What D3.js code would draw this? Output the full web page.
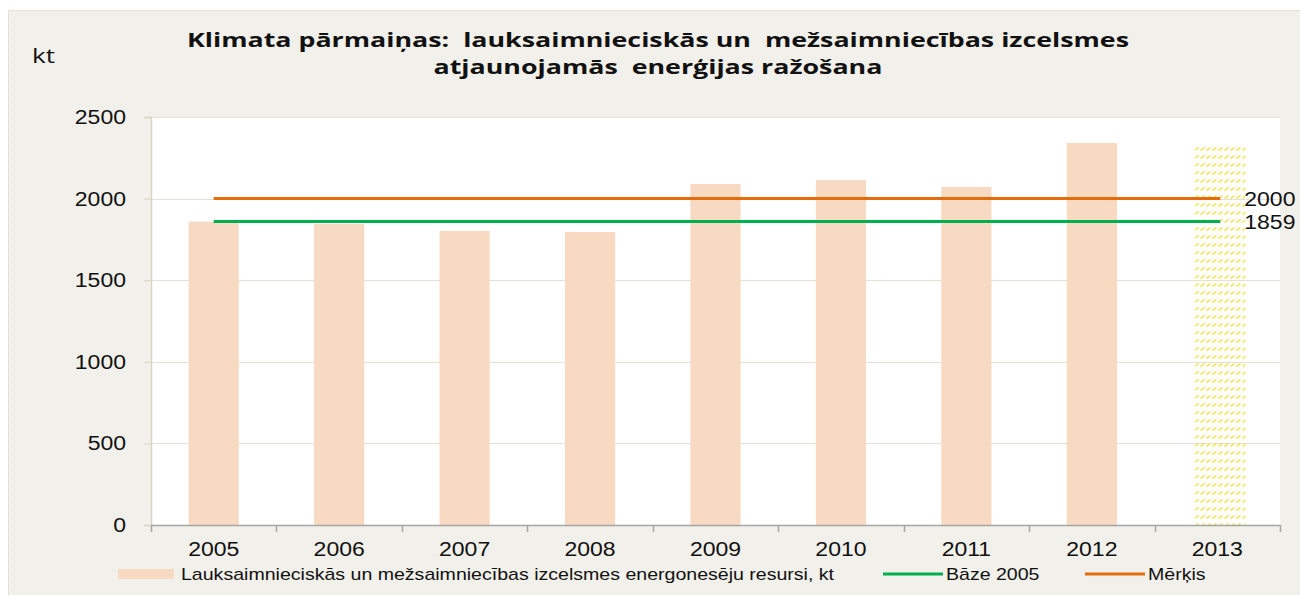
<!DOCTYPE html>
<html>
<head>
<meta charset="utf-8">
<script src="https://cdn.jsdelivr.net/npm/d3@7"></script>
<style>
  body { margin: 0; background: #fff; }
  svg { display: block; }
  .tick text { font-family: "Liberation Sans", Arial, sans-serif; fill: #111; }
</style>
</head>
<body>
<div id="chart"></div>
<script>
/**** data ****/
var years = ["2005", "2006", "2007", "2008", "2009", "2010", "2011", "2012", "2013"];
// renewable energy resources, kt (2013 shown only as hatched placeholder)
var resources = [1859, 1845, 1801, 1795, 2089, 2114, 2071, 2341, null];
var hatched = [null, null, null, null, null, null, null, null, 2340];
var baseValue = 1859;   // Bāze 2005
var targetValue = 2000; // Mērķis
var yTicks = [0, 500, 1000, 1500, 2000, 2500];

var titleLines = ["Klimata pārmaiņas:  lauksaimnieciskās un  mežsaimniecības izcelsmes",
                  "atjaunojamās  enerģijas ražošana"];
var legendLabels = ["Lauksaimnieciskās un mežsaimniecības izcelsmes energonesēju resursi, kt",
                    "Bāze 2005", "Mērķis"];

/**** config ****/
var width = 1300, height = 595;
var plot = { left: 151, right: 1280, top: 117, bottom: 525 };
var barColor = "#f8d9c1", green = "#00b050", orange = "#e46c0a";
var stretchK = 1.15; // the original picture is a bit wider than tall

// widen text horizontally (keeps its anchor)
function stretch(sel, k) {
  sel.each(function() {
    var w = this.getComputedTextLength();
    d3.select(this).attr("textLength", w * k).attr("lengthAdjust", "spacingAndGlyphs");
  });
}

var svg = d3.select("#chart").append("svg")
    .attr("width", width)
    .attr("height", height);

// hatch pattern for 2013
var defs = svg.append("defs");
var pat = defs.append("pattern")
    .attr("id", "hatch")
    .attr("patternUnits", "userSpaceOnUse")
    .attr("width", 6).attr("height", 8);
pat.append("path")
    .attr("d", "M0.5,6.5 L4.5,3.5")
    .attr("stroke", "#efe23c")
    .attr("stroke-width", 1.5);

// outer chart background
svg.append("rect")
    .attr("x", 8).attr("y", 10)
    .attr("width", width - 8).attr("height", height - 10)
    .attr("fill", "#f1f0ea");
svg.append("line")
    .attr("x1", 8).attr("x2", width).attr("y1", 10.5).attr("y2", 10.5)
    .attr("stroke", "#d8d3b8").attr("stroke-dasharray", "1,1");
svg.append("line")
    .attr("x1", 8.5).attr("x2", 8.5).attr("y1", 10).attr("y2", height)
    .attr("stroke", "#d8d3b8").attr("stroke-dasharray", "1,1");

// plot area
svg.append("rect")
    .attr("x", plot.left).attr("y", plot.top)
    .attr("width", plot.right - plot.left).attr("height", plot.bottom - plot.top)
    .attr("fill", "#fff");

var x = d3.scaleBand()
    .domain(years)
    .range([plot.left, plot.right])
    .paddingInner(0.6)
    .paddingOuter(0.3);

var y = d3.scaleLinear()
    .domain([0, 2500])
    .range([plot.bottom, plot.top]);

// gridlines
svg.append("g")
    .selectAll("line")
    .data(yTicks.slice(1))
    .enter().append("line")
    .attr("x1", plot.left).attr("x2", plot.right)
    .attr("y1", function(d) { return Math.round(y(d)) + 0.5; })
    .attr("y2", function(d) { return Math.round(y(d)) + 0.5; })
    .attr("stroke", "#e4e1d3");

// y axis
var yAxis = svg.append("g")
    .attr("transform", "translate(" + plot.left + ",0)")
    .call(d3.axisLeft(y).tickValues(yTicks).tickSize(7).tickPadding(18).tickFormat(d3.format("d")));
yAxis.selectAll("text").style("font-size", "20px").call(stretch, stretchK);
yAxis.selectAll("line").attr("stroke", "#d8d4c4");
yAxis.select(".domain").attr("stroke", "#d8d4c4").attr("stroke-width", 1.5);

// bars
svg.append("g")
    .selectAll("rect")
    .data(years.filter(function(d, i) { return resources[i] != null; }))
    .enter().append("rect")
    .attr("x", function(d) { return x(d); })
    .attr("width", x.bandwidth())
    .attr("y", function(d) { return y(resources[years.indexOf(d)]); })
    .attr("height", function(d) { return y(0) - y(resources[years.indexOf(d)]); })
    .attr("fill", barColor);

// hatched placeholder bar
svg.append("g")
    .selectAll("rect")
    .data(years.filter(function(d, i) { return hatched[i] != null; }))
    .enter().append("rect")
    .attr("x", function(d) { return x(d) + 3; })
    .attr("width", x.bandwidth())
    .attr("y", function(d) { return y(hatched[years.indexOf(d)]); })
    .attr("height", function(d) { return y(0) - y(hatched[years.indexOf(d)]); })
    .attr("fill", "url(#hatch)");

// x axis
var xAxis = svg.append("g")
    .attr("transform", "translate(0," + plot.bottom + ")")
    .call(d3.axisBottom(x).tickSize(0).tickPadding(17));
xAxis.selectAll("text").style("font-size", "20px").call(stretch, stretchK);
xAxis.select(".domain").attr("stroke", "#a6a6a6").attr("stroke-width", 1.5);
// tick marks at category boundaries
var edges = d3.range(years.length + 1).map(function(i) { return plot.left + i * (plot.right - plot.left) / years.length; });
svg.append("g")
    .selectAll("line")
    .data(edges)
    .enter().append("line")
    .attr("x1", function(d) { return Math.round(d) + 0.5; })
    .attr("x2", function(d) { return Math.round(d) + 0.5; })
    .attr("y1", plot.bottom).attr("y2", plot.bottom + 7)
    .attr("stroke", "#a6a6a6").attr("stroke-width", 1.5);

// reference lines
var x0 = x(years[0]) + x.bandwidth() / 2;
var x1 = x(years[years.length - 1]) + x.bandwidth() / 2 + 3;
[[targetValue, orange], [baseValue, green]].forEach(function(r) {
  svg.append("line")
      .attr("x1", x0).attr("x2", x1)
      .attr("y1", y(r[0])).attr("y2", y(r[0]))
      .attr("stroke", r[1]).attr("stroke-width", 3);
  svg.append("text")
      .attr("x", x1 + 24).attr("y", y(r[0]) + 7)
      .attr("font-family", "Liberation Sans, Arial, sans-serif")
      .attr("font-size", 20).attr("fill", "#111")
      .text(r[0])
      .call(stretch, stretchK);
});

// title
svg.append("g").selectAll("text")
    .data(titleLines)
    .enter().append("text")
    .attr("x", 658)
    .attr("y", function(d, i) { return 47 + i * 27; })
    .attr("text-anchor", "middle")
    .attr("font-family", "Open Sans, sans-serif")
    .attr("font-weight", "bold")
    .attr("font-size", 20)
    .attr("fill", "#111")
    .style("white-space", "pre")
    .text(function(d) { return d; })
    .call(stretch, 1.34);

// unit label
svg.append("text")
    .attr("x", 32).attr("y", 63)
    .attr("font-family", "Open Sans, sans-serif")
    .attr("font-size", 20).attr("fill", "#111")
    .text("kt")
    .call(stretch, 1.3);

// legend
var legendY = 574;
var lg = svg.append("g").attr("font-family", "Liberation Sans, Arial, sans-serif")
    .attr("font-size", 17).attr("fill", "#111");
lg.append("rect").attr("x", 118).attr("y", legendY - 5).attr("width", 56).attr("height", 10).attr("fill", barColor);
lg.append("text").attr("x", 181).attr("y", legendY + 6).text(legendLabels[0]);
lg.append("line").attr("x1", 883).attr("x2", 943).attr("y1", legendY).attr("y2", legendY)
    .attr("stroke", green).attr("stroke-width", 3);
lg.append("text").attr("x", 946).attr("y", legendY + 6).text(legendLabels[1]);
lg.append("line").attr("x1", 1085).attr("x2", 1145).attr("y1", legendY).attr("y2", legendY)
    .attr("stroke", orange).attr("stroke-width", 3);
lg.append("text").attr("x", 1148).attr("y", legendY + 6).text(legendLabels[2]);
lg.selectAll("text").call(stretch, stretchK);
</script>
</body>
</html>
